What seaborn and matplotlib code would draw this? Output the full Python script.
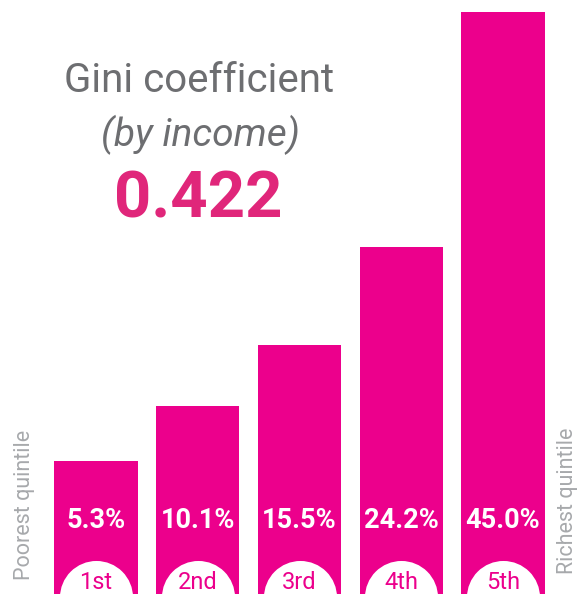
import matplotlib
matplotlib.use("Agg")
import matplotlib.pyplot as plt
import seaborn as sns
import pandas as pd

# Income share by quintile
quintiles = ["1st", "2nd", "3rd", "4th", "5th"]
shares = [5.3, 10.1, 15.5, 24.2, 45.0]
gini_value = "0.422"
title_line1 = "Gini coefficient"
title_line2 = "(by income)"
left_label = "Poorest quintile"
right_label = "Richest quintile"

BAR = "#EC008C"
GINI = "#E0267A"
TITLE_GRAY = "#6D6E71"
SIDE_GRAY = "#A7A9AC"

sns.set_theme(style="white")
plt.rcParams["font.family"] = ["Roboto", "DejaVu Sans"]

df = pd.DataFrame({"quintile": quintiles, "share": shares})

fig = plt.figure(figsize=(5.84, 6.01), dpi=100)
ax = fig.add_axes([0, 0, 1, 1])

sns.barplot(data=df, x="quintile", y="share", color=BAR, saturation=1,
            width=0.82, ax=ax, errorbar=None, zorder=1)

# Bars extend below the zero line down to a common foot
foot = -6.47
for p in ax.patches:
    h = p.get_height()
    p.set_y(foot)
    p.set_height(h - foot)
    p.set_edgecolor("none")

ax.set_xlim(-0.9435, 4.796)
ax.set_ylim(-7.087, 46.02)
ax.axis("off")

xs = range(len(quintiles))
# White discs at the foot of each bar
ax.scatter(list(xs), [-6.73] * len(quintiles), s=2766, color="white",
           zorder=3, linewidths=0, clip_on=False)

for i, (q, v) in enumerate(zip(quintiles, shares)):
    ax.text(i, 0, f"{v:.1f}%", ha="center", va="center", color="white",
            fontsize=19.5, fontweight="bold", zorder=4)
    ax.text(i, -5.45, q, ha="center", va="center", color=BAR,
            fontsize=17, zorder=4)

fig.text(199 / 584, 1 - 80 / 601, title_line1, ha="center", va="center",
         color=TITLE_GRAY, fontsize=29)
fig.text(200 / 584, 1 - 135 / 601, title_line2, ha="center", va="center",
         color=TITLE_GRAY, fontsize=28, style="italic")
fig.text(198.5 / 584, 1 - 200 / 601, gini_value, ha="center", va="center",
         color=GINI, fontsize=47, fontweight="bold")

fig.text(25 / 584, 1 - 505 / 601, left_label, ha="center", va="center",
         rotation=90, color=SIDE_GRAY, fontsize=15.5)
fig.text(567 / 584, 1 - 501 / 601, right_label, ha="center", va="center",
         rotation=90, color=SIDE_GRAY, fontsize=15.5)

fig.savefig("out.png", dpi=100, facecolor="white")
